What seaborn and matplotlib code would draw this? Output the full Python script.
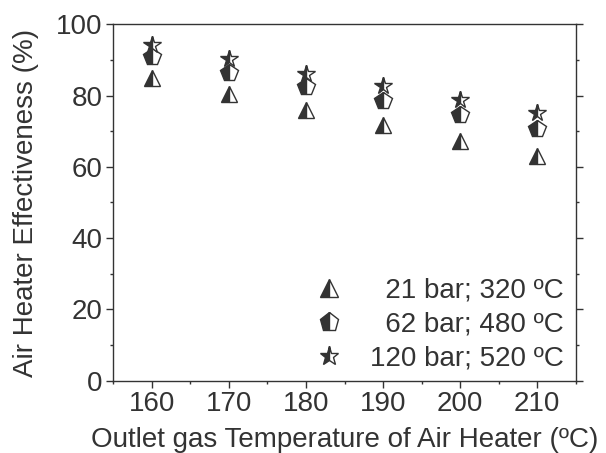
import matplotlib
matplotlib.use('Agg')
import matplotlib.pyplot as plt
import seaborn as sns
from matplotlib.ticker import MultipleLocator

# ---- data ----
temps = [160, 170, 180, 190, 200, 210]
eff_21bar = [85.0, 80.4, 76.0, 71.7, 67.4, 63.1]
eff_62bar = [90.9, 86.3, 82.4, 78.5, 74.5, 70.6]
eff_120bar = [94.2, 90.4, 86.0, 82.7, 78.7, 75.0]
series_labels = ['21 bar; 320 ºC', '62 bar; 480 ºC', '120 bar; 520 ºC']
x_ticks = [160, 170, 180, 190, 200, 210]
y_ticks = [0, 20, 40, 60, 80, 100]

sns.set_style('ticks')
plt.rcParams['font.family'] = ['Liberation Sans', 'DejaVu Sans']
dark = '#333333'
plt.rcParams.update({
    'text.color': dark, 'axes.labelcolor': dark,
    'xtick.color': dark, 'ytick.color': dark,
    'axes.edgecolor': dark, 'axes.linewidth': 1.0,
})

fig = plt.figure(figsize=(6.06, 4.53), dpi=100)
ax = fig.add_axes([0.187, 0.160, 0.763, 0.786])

max_len = max(len(s) for s in series_labels)
def pad(s):
    return '\u2007' * (max_len - len(s)) + s

for vals, mk, lab in [(eff_21bar, '^', series_labels[0]),
                      (eff_62bar, 'p', series_labels[1]),
                      (eff_120bar, '*', series_labels[2])]:
    sns.lineplot(x=temps, y=vals, ax=ax, linestyle='', marker=mk,
                 markersize=13 if mk != '^' else 12, fillstyle='left',
                 markerfacecolor=dark, markerfacecoloralt='white',
                 markeredgecolor=dark, markeredgewidth=1.0,
                 color=dark, label=pad(lab), estimator=None)

ax.set_xlim(155, 215)
ax.set_ylim(0, 100)
ax.set_xticks(x_ticks)
ax.set_yticks(y_ticks)
ax.xaxis.set_minor_locator(MultipleLocator(5))
ax.yaxis.set_minor_locator(MultipleLocator(10))
ax.tick_params(axis='both', which='major', direction='out', length=4.7,
               width=1.0, labelsize=20, pad=3)
ax.tick_params(axis='both', which='minor', direction='out', length=2.4, width=1.0)
ax.tick_params(axis='y', which='both', right=True)
for s in ax.spines.values():
    s.set_visible(True)

ax.set_xlabel('Outlet gas Temperature of Air Heater (ºC)', fontsize=20, labelpad=7)
ax.set_ylabel('Air Heater Effectiveness (%)', fontsize=20, labelpad=12)

leg = ax.legend(loc='lower right', bbox_to_anchor=(1.005, -0.015),
                frameon=False, fontsize=20, borderpad=0, handlelength=1.0,
                handletextpad=1.0, labelspacing=0.3, markerscale=1.1)

fig.savefig('out.png', dpi=100)
